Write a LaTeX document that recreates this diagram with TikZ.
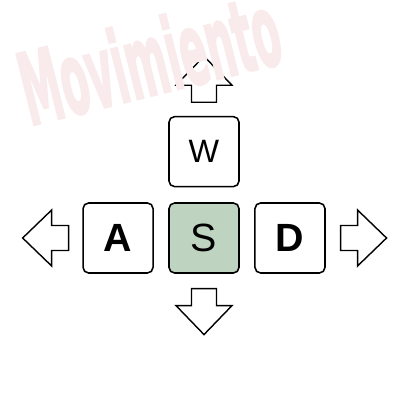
\documentclass[tikz,border=0pt]{standalone}
\usepackage{fontspec}
\usepackage{tikz}
\usetikzlibrary{positioning}
\setmainfont{Liberation Sans}
\newfontfamily\markfont[FakeBold=2.5]{DejaVu Sans Bold}
\definecolor{sage}{RGB}{191,211,193}
\definecolor{markpink}{RGB}{249,235,235}

\tikzset{
  key/.style={draw, rectangle, rounded corners=4pt, line width=1.1pt, fill=white,
    minimum size=1.75cm, inner sep=0pt, font=\fontsize{28}{28}\selectfont},
  keyarrow/.pic={
    \draw[line width=1pt, miter limit=10, fill=white, pic actions]
      (0,-12.5) -- (17,-12.5) -- (17,-28) -- (46,0) -- (17,28) -- (17,12.5) -- (0,12.5) -- cycle;
  },
  watermark/.style={anchor=base west, inner sep=0pt, rotate=14, xscale=0.4, text=markpink,
    font=\markfont\fontsize{71}{71}\selectfont}
}

\begin{document}
\begin{tikzpicture}[x=0.025cm, y=0.025cm, node distance=0.36cm]
    \useasboundingbox (0,0) rectangle (400,400);
    % Keys
    \node [key, fill=sage] (keys) at (204,162) {S};
    \node [key, font=\fontsize{23}{23}\selectfont, above=0.37cm of keys] (keyw) {W};
    \node [key, font=\bfseries\fontsize{28}{28}\selectfont, left=of keys] (keya) {A};
    \node [key, font=\bfseries\fontsize{28}{28}\selectfont, right=of keys] (keyd) {D};
    % Arrows
    \coordinate [above=0.34cm of keyw] (up);
    \coordinate [left=0.34cm of keya] (lt);
    \coordinate [right=0.37cm of keyd] (rt);
    \coordinate [below=0.37cm of keys] (dn);
    \pic [rotate=90] at (up) {keyarrow};
    \pic [rotate=180] at (lt) {keyarrow};
    \pic at (rt) {keyarrow};
    \pic [rotate=-90, fill=sage] at (dn) {keyarrow};
    % Watermark
    \node [watermark] (mark) at (30,274) {Movimiento};
\end{tikzpicture}
\end{document}
